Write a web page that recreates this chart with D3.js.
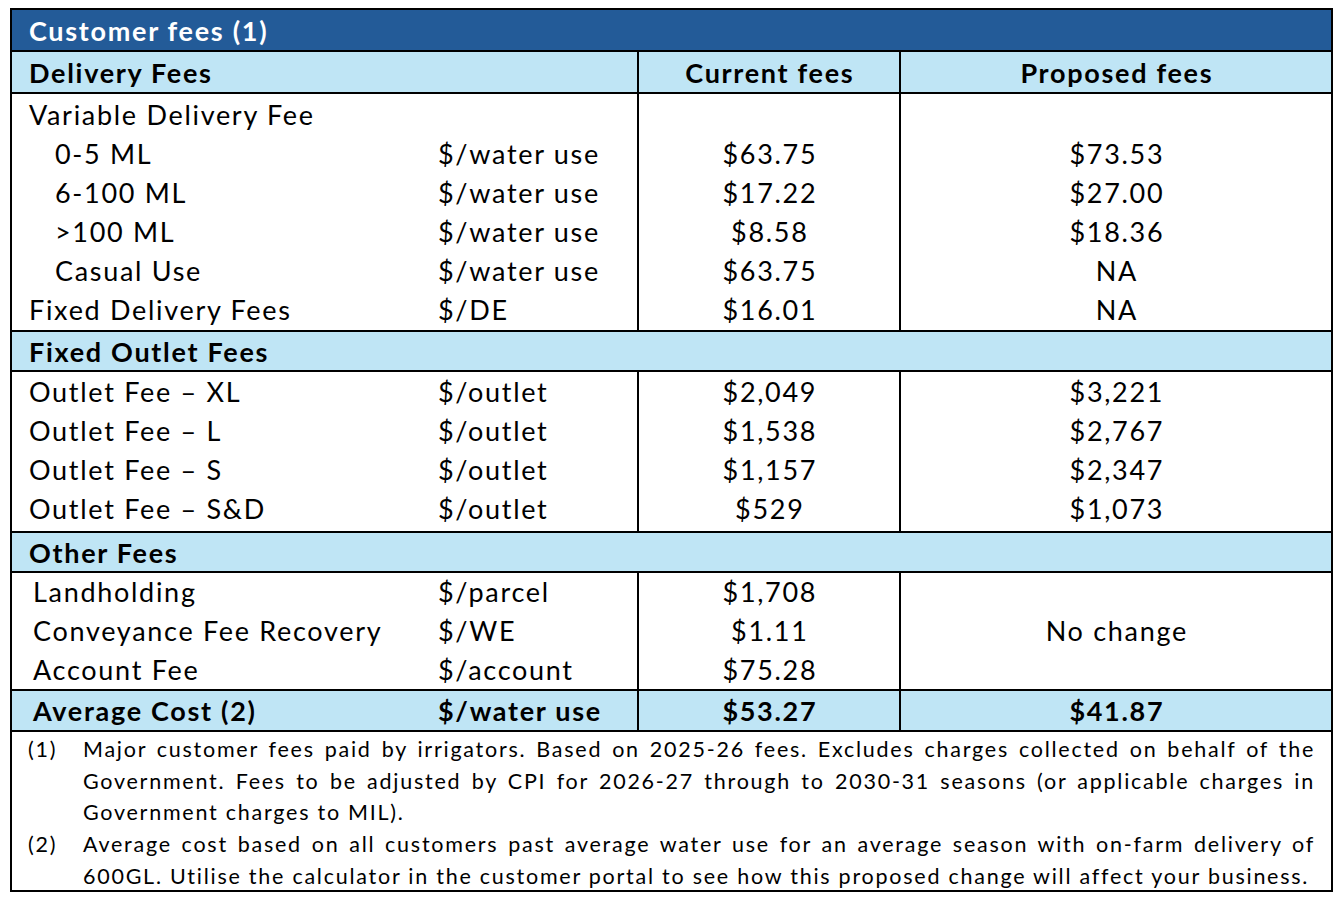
<!DOCTYPE html>
<html>
<head>
<meta charset="utf-8">
<script src="https://cdn.jsdelivr.net/npm/d3@7"></script>
<style>
  body { margin: 0; background: #fff; }
  svg text { font-family: Lato, "Noto Sans", sans-serif; fill: #000; }
</style>
</head>
<body>
<div class="table"></div>
<script>
// table contents
const titleText = "Customer fees (1)";
const headerLabels = ["Delivery Fees", "", "Current fees", "Proposed fees"];

const deliveryLabels = ["Variable Delivery Fee", "0-5 ML", "6-100 ML", ">100 ML", "Casual Use", "Fixed Delivery Fees"];
const deliverySub = [false, true, true, true, true, false];
const deliveryUnits = ["", "$/water use", "$/water use", "$/water use", "$/water use", "$/DE"];
const deliveryCurrent = ["", "$63.75", "$17.22", "$8.58", "$63.75", "$16.01"];
const deliveryProposed = ["", "$73.53", "$27.00", "$18.36", "NA", "NA"];

const outletTitle = "Fixed Outlet Fees";
const outletLabels = ["Outlet Fee \u2013 XL", "Outlet Fee \u2013 L", "Outlet Fee \u2013 S", "Outlet Fee \u2013 S&D"];
const outletUnits = ["$/outlet", "$/outlet", "$/outlet", "$/outlet"];
const outletCurrent = ["$2,049", "$1,538", "$1,157", "$529"];
const outletProposed = ["$3,221", "$2,767", "$2,347", "$1,073"];

const otherTitle = "Other Fees";
const otherLabels = ["Landholding", "Conveyance Fee Recovery", "Account Fee"];
const otherUnits = ["$/parcel", "$/WE", "$/account"];
const otherCurrent = ["$1,708", "$1.11", "$75.28"];
const otherProposed = "No change";

const averageRow = ["Average Cost (2)", "$/water use", "$53.27", "$41.87"];

const footnoteMarks = ["(1)", "(2)"];
const footnoteLines = [
  ["Major customer fees paid by irrigators. Based on 2025-26 fees. Excludes charges collected on behalf of the",
   "Government. Fees to be adjusted by CPI for 2026-27 through to 2030-31 seasons (or applicable charges in",
   "Government charges to MIL)."],
  ["Average cost based on all customers past average water use for an average season with on-farm delivery of",
   "600GL. Utilise the calculator in the customer portal to see how this proposed change will affect your business."]
];

// layout
const W = 1338, H = 900;
const tLeft = 11, tRight = 1332, tTop = 9, tBottom = 891;
const darkBlue = "#235b98", lightBlue = "#bfe5f5";
const fs = 27, fsNote = 21.5, spacing = 1.7, spacingNote = 1.75;
const rowH = 39;

// column geometry
const colX = d3.scaleOrdinal()
    .domain(["label", "unit", "current", "proposed"])
    .range([29, 438, 769, 1116]);
const vLines = [638, 900];

const svg = d3.select(".table")
    .append("svg")
    .attr("width", W)
    .attr("height", H);

const bg = svg.append("g");
const grid = svg.append("g");
const txt = svg.append("g");

function band(y0, h, fill) {
    bg.append("rect").attr("x", tLeft).attr("y", y0).attr("width", tRight - tLeft).attr("height", h).attr("fill", fill);
}
function hline(y) {
    grid.append("line").attr("x1", tLeft).attr("x2", tRight).attr("y1", y).attr("y2", y)
        .attr("stroke", "#000").attr("stroke-width", 2);
}
function vline(y0, y1) {
    vLines.forEach(x => grid.append("line").attr("x1", x).attr("x2", x).attr("y1", y0).attr("y2", y1)
        .attr("stroke", "#000").attr("stroke-width", 2));
}
function cell(text, x, y, opts = {}) {
    const ls = opts.spacing != null ? opts.spacing : spacing;
    // letter-spacing trails the last glyph, so nudge centred text back by half of it
    const dx = opts.anchor === "middle" ? ls / 2 : 0;
    return txt.append("text")
        .attr("x", x + dx).attr("y", y).attr("dy", "0.36em")
        .attr("text-anchor", opts.anchor || "start")
        .attr("font-size", opts.size || fs)
        .attr("font-weight", opts.bold ? 700 : 400)
        .attr("letter-spacing", ls)
        .style("fill", opts.color || "#000")
        .text(text);
}

// title bar
let y = tTop;
band(y, 42, darkBlue);
cell(titleText, colX("label"), y + 22, { bold: true, color: "#fff" });
y += 42;
hline(y);

// column header
band(y, 42, lightBlue);
vline(y, y + 42);
headerLabels.forEach((t, i) => {
    const key = colX.domain()[i];
    cell(t, colX(key), y + 22, { bold: true, anchor: i >= 2 ? "middle" : "start" });
});
y += 42;
hline(y);

// generic section of data rows
function section(labels, units, current, proposed, pad0, pad1, indent) {
    const y0 = y;
    labels.forEach((lab, i) => {
        const cy = y0 + pad0 + rowH * i + rowH / 2;
        cell(lab, colX("label") + indent(i), cy);
        cell(units[i], colX("unit"), cy);
        cell(current[i], colX("current"), cy, { anchor: "middle" });
        if (Array.isArray(proposed)) cell(proposed[i], colX("proposed"), cy, { anchor: "middle" });
    });
    const y1 = y0 + pad0 + rowH * labels.length + pad1;
    if (!Array.isArray(proposed)) cell(proposed, colX("proposed"), (y0 + y1) / 2, { anchor: "middle" });
    vline(y0, y1);
    y = y1;
    hline(y);
}
function sectionTitle(t) {
    band(y, 40, lightBlue);
    cell(t, colX("label"), y + 21, { bold: true });
    y += 40;
    hline(y);
}

section(deliveryLabels, deliveryUnits, deliveryCurrent, deliveryProposed, 3, 1, i => deliverySub[i] ? 26 : 0);
sectionTitle(outletTitle);
section(outletLabels, outletUnits, outletCurrent, outletProposed, 2, 3, () => 0);
sectionTitle(otherTitle);
section(otherLabels, otherUnits, otherCurrent, otherProposed, 1, 0, () => 4);

// average cost row
band(y, 41, lightBlue);
vline(y, y + 41);
averageRow.forEach((t, i) => {
    const key = colX.domain()[i];
    cell(t, colX(key) + (i === 0 ? 4 : 0), y + 21, { bold: true, anchor: i >= 2 ? "middle" : "start" });
});
y += 41;
hline(y);

// footnotes, justified like the source
const noteX0 = 83, noteX1 = 1315, noteStep = 31.8;
let ny = y + 18;
footnoteLines.forEach((lines, k) => {
    cell(footnoteMarks[k], 28, ny, { size: fsNote, spacing: spacingNote });
    lines.forEach((line, j) => {
        const t = cell(line, noteX0, ny, { size: fsNote, spacing: spacingNote });
        if (j < lines.length - 1) {
            const gaps = line.split(" ").length - 1;
            const extra = (noteX1 - noteX0 - t.node().getComputedTextLength()) / gaps;
            t.attr("word-spacing", extra);
        }
        ny += noteStep;
    });
});

// outer border
grid.append("rect")
    .attr("x", tLeft).attr("y", tTop)
    .attr("width", tRight - tLeft).attr("height", tBottom - tTop)
    .attr("fill", "none").attr("stroke", "#000").attr("stroke-width", 2);
</script>
</body>
</html>
